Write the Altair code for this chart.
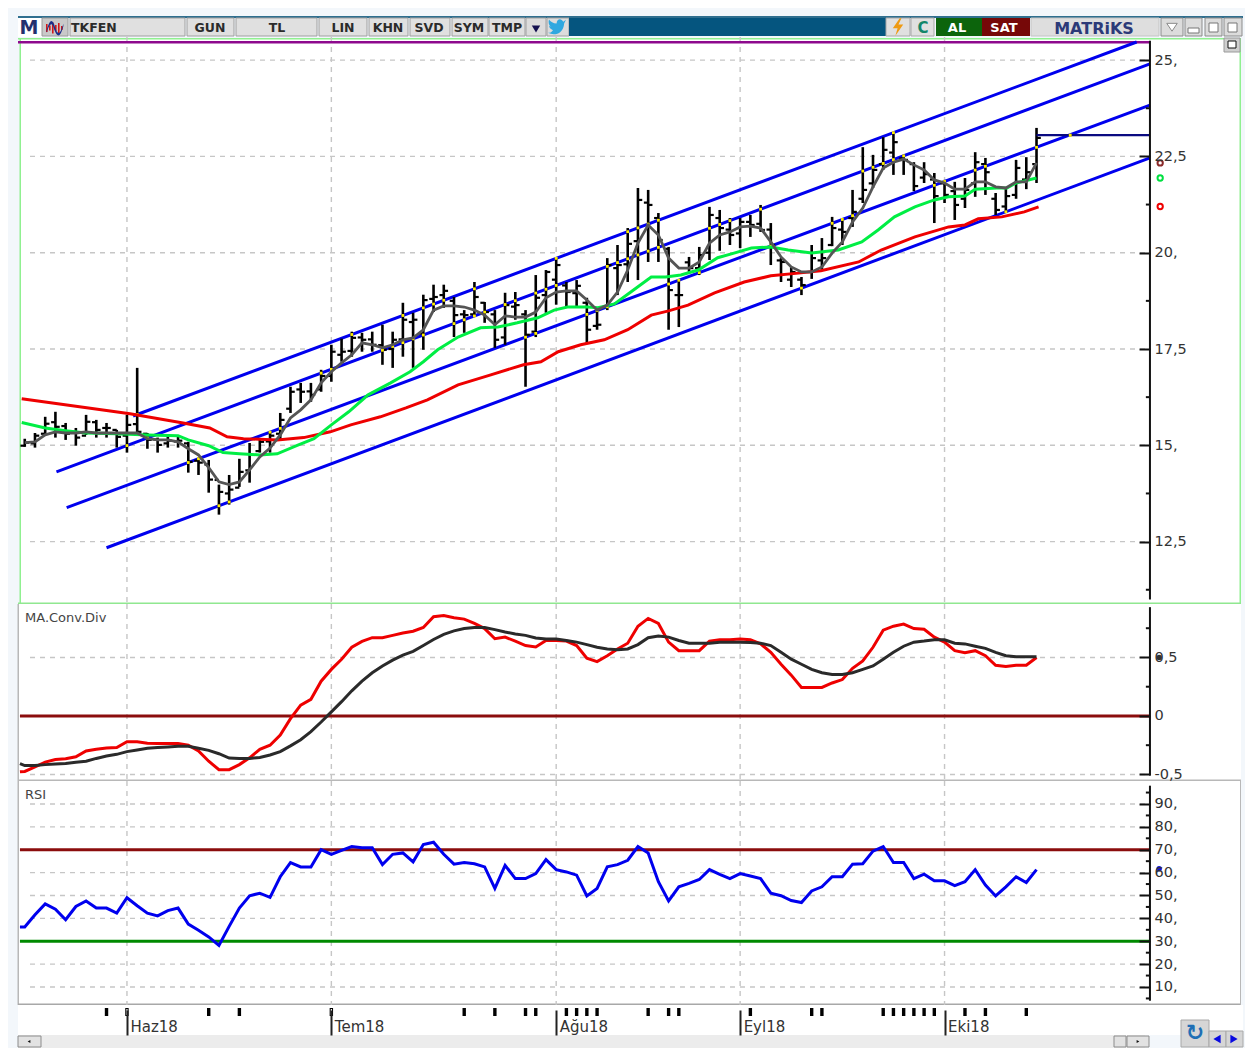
import altair as alt
import pandas as pd

FONT = "DejaVu Sans"
# ---------- price bars (index = trading day) ----------
highs = [15.17,15.32,15.74,15.87,15.58,15.45,15.79,15.66,15.58,15.40,15.79,17.01,15.32,15.20,15.22,15.22,15.09,14.68,14.62,13.98,
14.23,14.65,15.06,15.17,15.35,15.84,16.52,16.62,16.62,16.96,17.61,17.77,17.95,17.92,17.95,18.13,17.95,18.70,18.44,18.91,
19.17,19.17,18.85,18.51,19.24,18.72,18.51,18.96,18.98,18.51,19.42,19.55,19.86,19.24,19.29,18.83,18.51,19.86,20.20,20.64,
21.68,21.63,21.03,20.15,19.29,19.89,20.15,21.19,21.11,20.90,20.90,20.98,21.24,20.77,19.86,19.63,19.37,20.20,20.38,20.93,
20.90,21.63,22.74,22.54,23.00,23.13,22.54,22.35,22.35,22.07,21.89,21.84,21.94,22.61,22.46,21.55,21.68,22.41,22.48,23.24]
lows = [14.96,14.94,15.27,15.20,15.14,14.99,15.27,15.20,15.20,14.94,14.81,15.27,14.91,14.81,14.94,14.94,14.29,14.23,13.77,13.20,
13.46,13.92,14.03,14.81,14.81,15.14,15.84,16.10,16.13,16.39,16.65,17.17,17.30,17.43,17.43,17.09,17.01,17.30,17.01,17.48,
18.46,18.57,17.81,17.92,18.33,18.18,17.53,17.61,18.26,16.52,17.81,18.44,18.65,18.57,18.59,17.66,18.00,18.51,18.90,19.24,
19.29,19.76,19.76,18.00,18.07,19.50,19.42,19.81,20.05,20.20,20.12,20.41,20.54,19.68,19.24,19.11,18.90,19.32,19.55,20.17,
20.20,20.67,21.29,21.68,22.15,22.02,22.02,21.60,21.81,20.77,21.29,20.85,21.16,21.45,21.50,20.98,21.03,21.40,21.65,21.81]
closes = [15.07,15.25,15.56,15.48,15.30,15.20,15.61,15.40,15.45,15.22,15.53,15.35,15.14,15.01,15.12,15.12,14.57,14.55,14.11,13.79,
13.85,14.31,14.75,15.09,15.25,15.66,16.39,16.39,16.31,16.80,17.43,17.43,17.79,17.74,17.61,17.48,17.74,18.26,18.26,18.77,
18.85,19.01,18.38,18.38,18.85,18.46,17.74,18.64,18.64,17.87,18.83,19.50,19.68,18.98,19.14,18.00,18.13,19.68,19.68,20.23,
21.37,21.24,20.33,19.03,18.90,19.60,19.94,20.98,20.64,20.46,20.80,20.72,20.59,20.20,19.76,19.50,19.16,19.86,19.86,20.64,
20.54,21.06,21.63,22.15,22.67,22.87,22.41,21.73,22.04,21.47,21.50,21.24,21.63,22.35,22.09,21.11,21.47,22.20,22.09,22.98]
opens = [14.99,15.05,15.30,15.60,15.50,15.35,15.25,15.60,15.45,15.40,15.25,15.55,15.30,15.15,15.05,15.10,15.05,14.60,14.50,14.10,
13.75,13.90,14.35,14.85,15.10,15.30,15.95,16.45,16.40,16.45,16.80,17.35,17.45,17.80,17.75,17.60,17.50,17.75,18.20,17.90,
18.80,18.90,18.75,18.40,18.40,18.70,18.40,17.80,18.60,18.40,17.95,18.90,19.30,19.15,18.95,18.70,18.10,18.60,19.60,19.70,
20.30,21.30,20.90,20.10,18.90,19.75,19.60,20.00,20.90,20.60,20.50,20.80,20.75,20.60,19.80,19.30,19.30,19.50,19.80,20.20,
20.60,20.90,21.40,21.80,22.30,22.60,22.45,22.30,21.95,21.90,21.80,21.60,21.40,21.80,22.30,21.40,21.20,21.50,21.90,22.30]
ma_short = [15.07,15.09,15.27,15.35,15.32,15.32,15.35,15.32,15.32,15.32,15.32,15.32,15.17,15.14,15.14,15.09,14.91,14.75,14.42,14.05,
13.98,14.05,14.36,14.70,14.93,15.27,15.71,15.92,16.18,16.62,16.91,17.14,17.35,17.66,17.61,17.53,17.61,17.74,17.79,18.00,
18.51,18.62,18.62,18.59,18.51,18.38,18.13,18.36,18.33,18.33,18.46,18.83,18.98,19.01,19.01,18.77,18.51,18.64,18.98,19.55,
20.25,20.72,20.46,19.86,19.60,19.60,19.76,20.25,20.46,20.54,20.67,20.69,20.64,20.28,19.89,19.63,19.50,19.50,19.63,19.99,
20.28,20.80,21.16,21.71,22.20,22.35,22.43,22.28,22.15,21.89,21.81,21.65,21.65,21.84,21.84,21.71,21.68,21.84,21.84,22.33]

green_idx = [-0.3,2,4,6,9,12,15,16,18,19.4,21,23,24.7,26.6,28.3,30,31.7,33.6,35.8,37.7,39,40.4,42.4,44.6,46.3,48.2,50.2,51.8,53.1,55.1,
56.1,57.7,59.3,61.3,62.7,64.2,65.9,67.8,69.4,71.1,73,74.7,77,79.6,81.9,83.5,85.1,87.1,89,90.4,92,93,95.1,96.1,97,99]
green_val = [15.59,15.45,15.38,15.32,15.30,15.27,15.25,15.14,14.99,14.81,14.78,14.75,14.78,14.99,15.17,15.53,15.87,16.31,16.62,16.91,17.17,17.48,17.81,18.05,18.07,18.18,18.31,18.51,18.59,18.59,
18.57,18.67,18.98,19.37,19.37,19.42,19.55,19.87,19.99,20.12,20.15,20.07,19.99,20.07,20.28,20.59,20.93,21.19,21.37,21.45,21.47,21.65,21.68,21.68,21.81,21.94]

red_idx = [-0.3,10.3,15.5,18.1,19.8,21.4,24.7,27.3,29.9,31.9,34.8,37.3,39.4,42.4,45.6,48.8,50.5,52.2,54.4,56.7,59,61.3,63,64.9,67.5,70.4,73,75.7,77.9,81.6,83.8,87.1,90.4,92,93.3,95.6,97.8,99.2]
red_val = [16.21,15.82,15.58,15.45,15.22,15.17,15.14,15.20,15.35,15.53,15.74,15.97,16.18,16.57,16.83,17.09,17.17,17.43,17.61,17.74,18.00,18.38,18.49,18.64,18.96,19.24,19.40,19.47,19.53,19.76,20.07,20.41,20.67,20.72,20.88,20.93,21.06,21.19]

# channel lines: start index, start price, end index, end price
chan_x0 = [10.6,3.1,4.1,8.0]
chan_y0 = [15.76,14.31,13.38,12.34]
chan_x1 = [108.8,110.1,110.1,110.1]
chan_y1 = [25.47,24.90,23.83,22.46]
last_level = 23.05
last_level_dot = 102.3

# ---------- MACD (first value sits at the left edge, index -0.47) ----------
macd_line = [-.477,-.474,-.436,-.395,-.372,-.366,-.349,-.299,-.285,-.273,-.27,-.221,-.221,-.233,-.235,-.235,-.235,-.25,-.299,-.387,-.459,
-.459,-.416,-.358,-.285,-.25,-.163,-.023,.093,.142,.297,.398,.485,.587,.637,.669,.669,.689,.709,.724,.756,
.849,.858,.84,.828,.791,.747,.66,.674,.64,.602,.59,.645,.645,.64,.602,.494,.465,.515,.573,.622,
.767,.834,.791,.631,.558,.558,.558,.64,.651,.651,.657,.651,.616,.544,.442,.349,.244,.244,.244,.282,
.311,.407,.471,.587,.733,.767,.785,.747,.741,.674,.631,.558,.541,.558,.515,.433,.422,.433,.433,.5]
macd_signal = [-.407,-.424,-.424,-.416,-.41,-.407,-.395,-.387,-.363,-.343,-.328,-.305,-.291,-.276,-.27,-.265,-.259,-.259,-.276,-.294,-.323,
-.36,-.363,-.363,-.355,-.334,-.305,-.256,-.203,-.134,-.052,.035,.122,.215,.297,.369,.427,.477,.52,.552,.602,
.654,.698,.727,.747,.756,.756,.738,.718,.701,.689,.666,.657,.657,.645,.631,.61,.587,.573,.567,.573,
.61,.669,.683,.674,.645,.622,.622,.622,.631,.631,.631,.628,.622,.602,.544,.485,.442,.398,.369,.355,
.355,.369,.398,.427,.485,.544,.596,.631,.64,.651,.651,.622,.616,.596,.578,.544,.515,.506,.506,.506]

# ---------- RSI (first value sits at the left edge, index -0.47) ----------
rsi = [36.2,36.2,41.6,46.3,44,39.4,45.2,47.6,44.5,44.5,42.3,49,45.5,42.3,41.1,43.4,44.5,37.5,34.8,31.9,28.2,
36.5,44.5,49.9,51,49.2,58.2,64.4,62.5,62.5,70,68,69.7,71.4,70.9,70.9,63.5,68,68.6,64.7,72.3,
73.3,68,63.7,64.4,63.9,62.5,53.1,63.2,57.4,57.4,59.6,65.7,61.3,60.3,58.9,49.8,53.1,62.5,63.5,65.4,
71.4,68.6,56,47.6,53.8,55.3,57,61.3,59.2,57.4,59.6,58.5,57.4,51,49.9,47.8,46.9,52,53.8,58.2,
58.2,63.7,63.9,69.4,71.4,64.4,64.4,57.4,59.3,56.4,56.4,54.3,56,61.3,54.6,49.8,53.8,58.2,55.7,61.3]

# ---------- axes ----------
month_idx = [10,30,52,70,90]
month_names = ["Haz18","Tem18","Ağu18","Eyl18","Eki18"]
event_idx = [8,18,21,43,46,49,50,53,54,55,56,61,63,64,71,77,78,84,85,86,87,88,89,92,94,98]
event_hollow_idx = [10,30]
price_ticks = [25,22.5,20,17.5,15,12.5]
price_minor = [23.75,21.25,18.75,16.25,13.75,11.25]
macd_ticks = [0.5,0,-0.5]
macd_minor = [0.75,0.25,-0.25]
rsi_ticks = [90,80,70,60,50,40,30,20,10]
rsi_minor = [95,85,75,65,55,45,35,25,15,5]

# ---------- mapping page pixels to scales ----------
W = 1237
AX = 110.1          # index where the value axis stands
XS = alt.Scale(domain=[-1.64, 119.4], nice=False, zero=False)
AX_PX = 1150
AXES = {}


def V(x):
    return x - 8


ONE = alt.Data(values=[{"k": 1}])


def box(x0, y0, x1, y1, fill, top, stroke=None):
    kw = {"fill": fill}
    if stroke:
        kw.update(stroke=stroke, strokeWidth=1)
    return alt.Chart(ONE).mark_rect(**kw).encode(
        x=alt.value(V(x0)), x2=alt.value(V(x1)),
        y=alt.value(y0 - top), y2=alt.value(y1 - top))


def txt(x, y, s, top, size=13, color="#333333", bold=False, align="left"):
    return alt.Chart(ONE).mark_text(text=s, font=FONT, fontSize=size, color=color, align=align,
                                    baseline="middle", fontWeight="bold" if bold else "normal").encode(
        x=alt.value(V(x)), y=alt.value(y - top))


def glyph(x, y, shape, size, color, top, stroke=None):
    kw = {"stroke": stroke, "strokeWidth": 1} if stroke else {"strokeWidth": 0}
    return alt.Chart(ONE).mark_point(shape=shape, size=size, filled=True, fill=color, opacity=1, **kw).encode(
        x=alt.value(V(x)), y=alt.value(y - top))


X_ = alt.X("x:Q", scale=XS, axis=None)
XL = alt.X("xl:Q", scale=XS, axis=None)


def Yv(field, ys):
    return alt.Y(field, scale=ys, axis=AXES[id(ys)])


def frame(top, bottom, ys, axis_ticks, label_expr, minor, y_top_val, y_bot_val, hgrid):
    """Return layers common to a panel: grid, value axis."""
    AXES[id(ys)] = alt.Axis(
        orient="left", values=axis_ticks, offset=-(AX_PX - 8), domain=False, grid=False,
        tickSize=11, tickWidth=2, tickColor="#111111", labelAlign="left", labelPadding=-15,
        labelExpr=label_expr, labelFont=FONT, labelFontSize=14.5, labelColor="#333333",
        labelOverlap=False, labelBound=False, labelFlush=False, title=None, zindex=1)
    ls = []
    ls.append(alt.Chart(pd.DataFrame({"x": month_idx})).mark_rule(
        color="#c6c6c6", strokeDash=[5, 5], strokeWidth=1.4).encode(
        x=X_, y=alt.value(0), y2=alt.value(bottom - top)))
    ls.append(alt.Chart(pd.DataFrame({"v": hgrid})).mark_rule(
        color="#c6c6c6", strokeDash=[5, 5], strokeWidth=1.4).encode(
        y=Yv("v:Q", ys), x=alt.value(V(30)), x2=alt.value(V(AX_PX))))
    ls_axis = alt.Chart(pd.DataFrame({"x": [AX], "v": [y_top_val], "v2": [y_bot_val]})).mark_rule(
        color="#111111", strokeWidth=2).encode(
        x=X_, y=Yv("v:Q", ys), y2="v2:Q")
    ls_minor = alt.Chart(pd.DataFrame({"v": minor, "x": [AX - 0.4] * len(minor), "x2": [AX] * len(minor)})).mark_rule(
        color="#111111", strokeWidth=2).encode(
        x=X_, x2="x2:Q", y=Yv("v:Q", ys))
    return ls, [ls_axis, ls_minor]


def line(df, color, width, ys):
    return alt.Chart(df).mark_line(color=color, strokeWidth=width, interpolate="linear").encode(
        x=X_, y=Yv("v:Q", ys))


def level(v, color, ys, x0=-0.47, x1=AX):
    return alt.Chart(pd.DataFrame({"v": [v], "x": [x0], "x2": [x1]})).mark_rule(color=color, strokeWidth=3).encode(
        x=X_, x2="x2:Q", y=Yv("v:Q", ys))


idx = list(range(100))
idx_edge = [-0.47] + idx
PALE = "#f3f7fb"

# ================= toolbar (page y 8..37) =================
T = 8
tb = [box(8, 8, 1245, 37, PALE, T), box(18, 16, 1243, 18, "#2f6f8f", T),
      box(18, 18, 42, 37, "#ffffff", T), txt(29, 28, "M", T, size=19, color="#23306e", bold=True, align="center"),
      box(42, 18, 68, 36, "#c9c9c9", T, "#9a9a9a")]
for xx, hh in zip([46, 49, 52, 55, 58, 61], [8, 5, 11, 6, 10, 4]):
    tb.append(box(xx, 28 - hh / 2, xx + 1.6, 28 + hh / 2, "#d01818", T))
tb.append(glyph(55, 27, "M -1 0.4 C -0.6 -1 -0.3 -1 0 0 C 0.3 1 0.6 1 1 -0.4 L 1 -0.1 C 0.6 1.3 0.3 1.3 -0.1 0.3 C -0.3 -0.6 -0.6 -0.6 -1 0.7 Z",
                280, "#1c2f8a", T))
buttons = [(70, 185, "TKFEN", 71, "left"), (187, 234, "GUN", 210, "center"), (236, 317, "TL", 277, "center"),
           (319, 367, "LIN", 343, "center"), (369, 408, "KHN", 388, "center"), (410, 450, "SVD", 429, "center"),
           (452, 488, "SYM", 469, "center"), (489, 525, "TMP", 507, "center")]
for a, b, s, tx, al in buttons:
    tb.append(box(a, 18, b, 36, "#e0e0e0", T, "#a0a0a0"))
    tb.append(txt(tx, 28, s, T, size=12.5, color="#2b2b2b", bold=True, align=al))
tb.append(box(526, 18, 546, 36, "#dcdcdc", T, "#a0a0a0"))
tb.append(glyph(536, 29, "triangle-down", 70, "#14104f", T))
tb.append(box(547, 18, 569, 36, "#dcdcdc", T, "#a0a0a0"))
tb.append(glyph(557, 27, "M -1 0.65 C -0.3 1 0.7 0.8 0.8 -0.4 L 1 -0.8 L 0.7 -0.6 C 0.5 -1 0 -1 -0.05 -0.4 C -0.4 -0.4 -0.75 -0.6 -0.9 -0.85 C -1 -0.5 -0.9 -0.2 -0.7 -0.05 L -0.9 -0.1 C -0.85 0.15 -0.6 0.3 -0.45 0.35 C -0.6 0.6 -0.8 0.65 -1 0.65 Z",
                320, "#2fa8e0", T))
tb.append(box(569, 18, 886, 36, "#05557f", T))
tb.append(box(886, 18, 910, 36, "#e0e0e0", T, "#a8a8a8"))
tb.append(glyph(898, 27, "M 0.2 -1 L -0.6 0.15 L -0.05 0.15 L -0.3 1 L 0.6 -0.3 L 0.05 -0.3 L 0.4 -1 Z", 300, "#ee9a12", T))
tb.append(box(911, 18, 934, 36, "#e0e0e0", T, "#a8a8a8"))
tb.append(txt(923, 28, "C", T, size=15, color="#12866a", bold=True, align="center"))
tb.append(box(936, 18, 982, 36, "#0c640c", T))
tb.append(txt(957, 28, "AL", T, size=13, color="#ffffff", bold=True, align="center"))
tb.append(box(982, 18, 1030, 36, "#760808", T))
tb.append(txt(1004, 28, "SAT", T, size=13, color="#ffffff", bold=True, align="center"))
tb.append(box(1031, 18, 1159, 36, "#dedede", T, "#c4c4c4"))
tb.append(txt(1094, 29, "MATRiKS", T, size=16, color="#2c3a78", bold=True, align="center"))
for a, b in [(1161, 1183), (1185, 1202), (1205, 1222), (1224, 1242)]:
    tb.append(box(a, 18, b, 36, "#dcdcdc", T, "#8c8c8c"))
tb.append(glyph(1172, 27, "M -1 -0.7 L 1 -0.7 L 0 0.8 Z", 110, "#ffffff", T, "#8a8a8a"))
tb.append(box(1188, 28, 1199, 33, "#ffffff", T, "#777777"))
tb.append(box(1209, 23, 1218, 32, "#ffffff", T, "#777777"))
tb.append(box(1228, 23, 1237, 32, "#ffffff", T, "#777777"))
toolbar = alt.layer(*tb).properties(width=W, height=29)

# ================= price panel (page y 37..604) =================
T = 37
YP = alt.Scale(domain=[10.88, 25.60], nice=False, zero=False)
head, tail = frame(37, 604, YP, price_ticks,
                   "datum.value % 1 == 0 ? datum.value + ',' : floor(datum.value) + ',5'",
                   price_minor, 25.5, 11.0, price_ticks)
bars = pd.DataFrame({"x": idx, "h": highs, "l": lows, "o": opens, "c": closes})
bars["xl"] = bars.x - 0.42
bars["xr"] = bars.x + 0.42
ma_df = pd.DataFrame({"x": idx, "v": ma_short})
green_df = pd.DataFrame({"x": green_idx, "v": green_val})
red_df = pd.DataFrame({"x": red_idx, "v": red_val})
Y_ = lambda f: Yv(f, YP)

chan_layers, cross = [], []
for a, b, c, d in zip(chan_x0, chan_y0, chan_x1, chan_y1):
    chan_layers.append(line(pd.DataFrame({"x": [a, c], "v": [b, d]}), "#0000ee", 3, YP))
    for i in idx:
        if a <= i <= c:
            v = b + (d - b) * (i - a) / (c - a)
            if lows[i] <= v <= highs[i]:
                cross.append({"x": i, "v": v})
cross.append({"x": last_level_dot, "v": last_level})

main_layers = [box(8, 37, 1245, 604, PALE, T), box(20, 38, 1241, 604, "#ffffff", T),
               box(18, 38, 1241, 39.6, "#90f090", T), box(19.5, 38, 21, 604, "#90f090", T),
               box(1239.5, 38, 1241, 604, "#90f090", T), box(18, 602.5, 1241, 604, "#90e890", T)] + head + [
    box(18, 41, AX_PX, 43.6, "#8d0a8d", T)] + chan_layers + [
    alt.Chart(bars).mark_rule(color="#000000", strokeWidth=2.6).encode(x=X_, y=Y_("h:Q"), y2="l:Q"),
    alt.Chart(bars).mark_rule(color="#000000", strokeWidth=2.2).encode(x=XL, x2="x:Q", y=Y_("o:Q")),
    alt.Chart(bars).mark_rule(color="#000000", strokeWidth=2.2).encode(x=X_, x2="xr:Q", y=Y_("c:Q")),
    alt.Chart(pd.DataFrame(cross)).mark_square(color="#ffee00", size=8, opacity=1).encode(x=X_, y=Y_("v:Q")),
    line(red_df, "#ee0000", 3, YP), line(green_df, "#00ee44", 3, YP), line(ma_df, "#555555", 2.8, YP),
    alt.Chart(pd.DataFrame({"x": [99], "x2": [AX], "v": [last_level]})).mark_rule(color="#0a0a80", strokeWidth=2.2).encode(
        x=X_, x2="x2:Q", y=Y_("v:Q")),
    alt.Chart(pd.DataFrame({"x": [102.3], "v": [last_level]})).mark_square(color="#ffee00", size=8, opacity=1).encode(x=X_, y=Y_("v:Q")),
] + tail + [
    alt.Chart(pd.DataFrame({"x": [111.1], "v": [22.33]})).mark_point(color="#8a2a2a", size=28, strokeWidth=2, filled=False, opacity=1).encode(x=X_, y=Y_("v:Q")),
    alt.Chart(pd.DataFrame({"x": [111.1], "v": [21.94]})).mark_point(color="#00e040", size=28, strokeWidth=2, filled=False, opacity=1).encode(x=X_, y=Y_("v:Q")),
    alt.Chart(pd.DataFrame({"x": [111.1], "v": [21.2]})).mark_point(color="#ee0000", size=28, strokeWidth=2, filled=False, opacity=1).encode(x=X_, y=Y_("v:Q")),
    box(1224, 38, 1240, 52, "#cfcfcf", T, "#9a9a9a"), box(1228, 41, 1236, 48, "#ffffff", T, "#111111"),
]
main = alt.layer(*main_layers).properties(width=W, height=567)

# ================= MACD panel (page y 604..781) =================
T = 604
YM = alt.Scale(domain=[-0.556, 0.957], nice=False, zero=False)
head, tail = frame(604, 781, YM, macd_ticks,
                   "datum.value == 0.5 ? '0,5' : datum.value == 0 ? '0' : '-0,5'",
                   macd_minor, 0.93, -0.51, [0.5, -0.5])
macd_layers = [box(8, 604, 1245, 781, PALE, T), box(18, 604, 1241, 781, "#ffffff", T),
               box(17.5, 604, 19, 781, "#b8b8b8", T), box(18, 779.6, 1241, 781, "#b8b8b8", T)] + head + [
    level(0, "#8b0d0d", YM),
    line(pd.DataFrame({"x": idx_edge, "v": macd_line}), "#ee0000", 3, YM),
    line(pd.DataFrame({"x": idx_edge, "v": macd_signal}), "#2a2a2a", 3, YM),
] + tail + [
    alt.Chart(pd.DataFrame({"x": [111.0], "v": [0.5]})).mark_point(color="#333333", size=30, filled=True, opacity=1).encode(
        x=X_, y=Yv("v:Q", YM)),
    txt(25, 618, "MA.Conv.Div", T, size=13, color="#444444"),
]
macd = alt.layer(*macd_layers).properties(width=W, height=177)

# ================= RSI panel (page y 781..1005) =================
T = 781
YR = alt.Scale(domain=[2.13, 100.05], nice=False, zero=False)
head, tail = frame(781, 1005, YR, rsi_ticks, "datum.value + ','", rsi_minor, 98, 4,
                   [90, 80, 60, 50, 40, 20, 10])
rsi_layers = [box(8, 781, 1245, 1005, PALE, T), box(18, 781, 1241, 1005, "#ffffff", T),
              box(17.5, 781, 19, 1005, "#b8b8b8", T), box(18, 1003.5, 1241, 1005, "#a8a8a8", T),
              box(1240, 781, 1241, 1005, "#b8b8b8", T)] + head + [
    level(70, "#8b0d0d", YR), level(30, "#008a00", YR),
    line(pd.DataFrame({"x": idx_edge, "v": rsi}), "#0000ee", 3, YR),
] + tail + [
    alt.Chart(pd.DataFrame({"x": [111.0], "v": [61.7]})).mark_point(color="#1010e0", size=30, filled=True, opacity=1).encode(
        x=X_, y=Yv("v:Q", YR)),
    txt(25, 795, "RSI", T, size=13, color="#444444"),
]
rsi_panel = alt.layer(*rsi_layers).properties(width=W, height=224)

# ================= date strip (page y 1005..1048) =================
T = 1005
names_js = str(month_names)
FOOT_X = alt.X("x:Q", scale=XS, axis=alt.Axis(
    orient="bottom", values=month_idx, offset=-38, domain=False, grid=False, title=None,
    tickSize=25, tickWidth=2, tickColor="#222222", labelAlign="left", labelBaseline="middle",
    labelPadding=-9, labelOffset=3, labelFont=FONT, labelFontSize=15, labelColor="#333333",
    labelOverlap=False, labelBound=False, labelFlush=False, zindex=1,
    labelExpr=f"{names_js}[indexof({month_idx}, datum.value)]"))
foot_layers = [
    box(8, 1005, 1245, 1048, PALE, T), box(18, 1005, 1243, 1035, "#ffffff", T),
    box(18, 1035, 1145, 1048, "#ececec", T),
    alt.Chart(pd.DataFrame({"x": event_idx})).mark_rule(color="#000000", strokeWidth=3.4).encode(
        x=FOOT_X, y=alt.value(3), y2=alt.value(11)),
    alt.Chart(pd.DataFrame({"x": event_hollow_idx})).mark_rule(color="#000000", strokeWidth=3.4).encode(
        x=FOOT_X, y=alt.value(3), y2=alt.value(11)),
    alt.Chart(pd.DataFrame({"x": event_hollow_idx})).mark_rule(color="#ffffff", strokeWidth=1.2).encode(
        x=FOOT_X, y=alt.value(4), y2=alt.value(10)),
    box(18, 1036, 41, 1047, "#e2e2e2", T, "#8c8c8c"),
    glyph(29, 1041.5, "triangle-left", 10, "#111111", T),
    box(1114, 1036, 1126, 1047, "#e2e2e2", T, "#8c8c8c"),
    box(1127, 1036, 1149, 1047, "#e2e2e2", T, "#8c8c8c"),
    glyph(1138, 1041.5, "triangle-right", 10, "#111111", T),
    box(1181, 1020, 1209, 1047, "#d6d6d6", T, "#a8a8a8"),
    txt(1195, 1033, "↻", T, size=22, color="#1f6fb5", bold=True, align="center"),
    box(1209, 1031, 1226, 1047, "#d6d6d6", T, "#a8a8a8"),
    glyph(1217, 1039, "triangle-left", 70, "#0a0ae0", T),
    box(1226, 1031, 1243, 1047, "#d6d6d6", T, "#a8a8a8"),
    glyph(1234, 1039, "triangle-right", 70, "#0a0ae0", T),
]
foot = alt.layer(*foot_layers).properties(width=W, height=43)

chart = alt.vconcat(toolbar, main, macd, rsi_panel, foot, spacing=0, padding=0, bounds="flush").configure_view(stroke=None).configure_concat(spacing=0)
chart.save("out.html", embed_options={"renderer": "svg", "actions": False})
